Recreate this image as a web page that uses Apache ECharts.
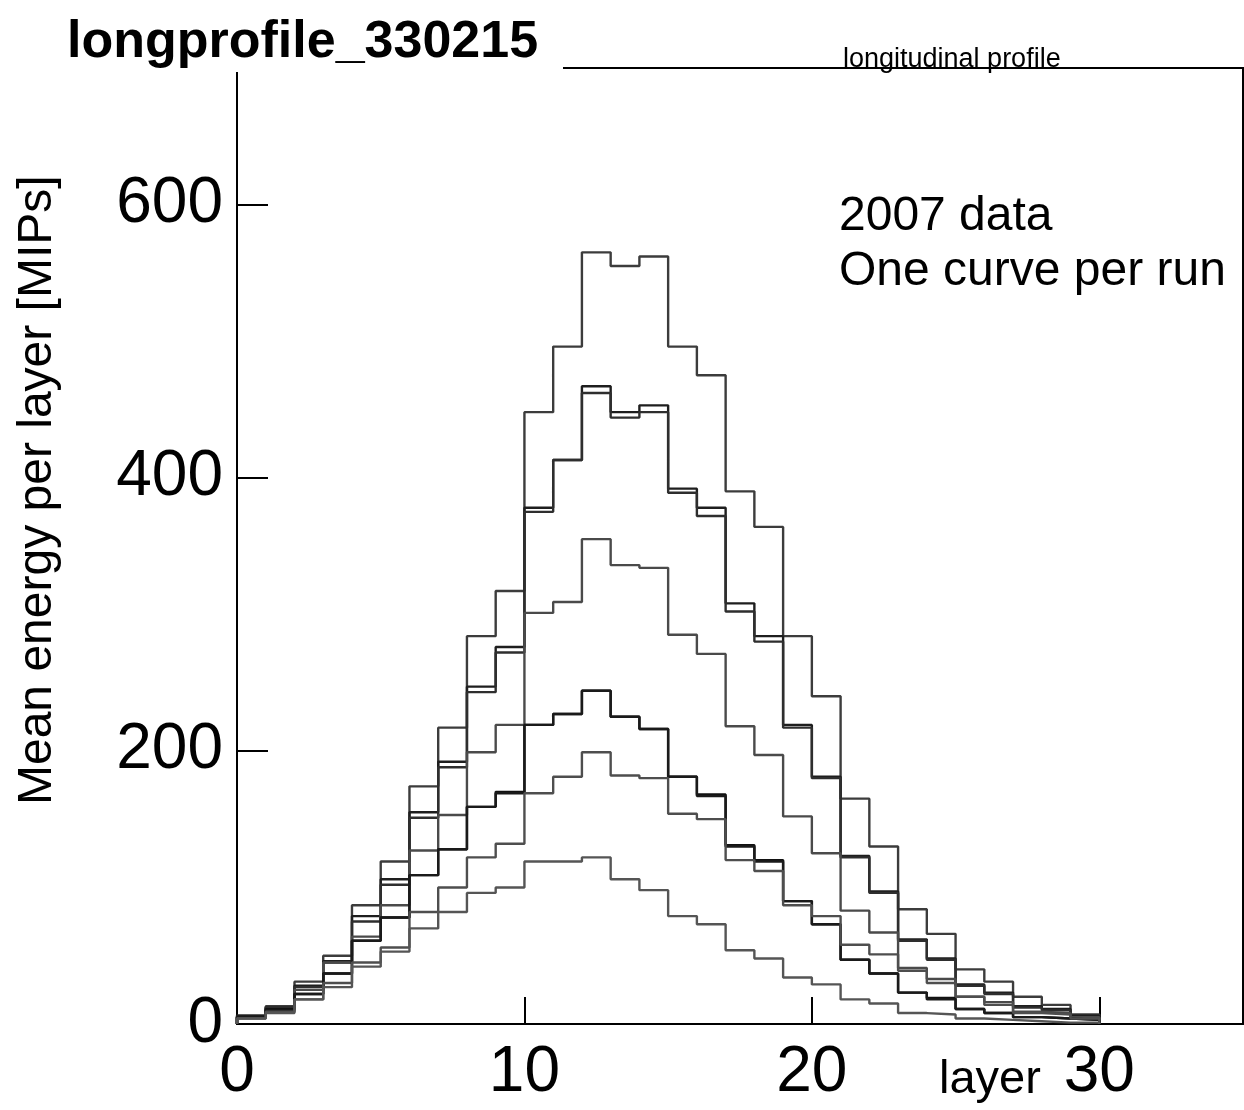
<!DOCTYPE html>
<html>
<head>
<meta charset="utf-8">
<title>longprofile_330215</title>
<script src="https://cdn.jsdelivr.net/npm/echarts@6/dist/echarts.min.js"></script>
<style>
  html, body { margin: 0; padding: 0; background: #ffffff; }
  #chart { width: 1244px; height: 1110px; }
</style>
</head>
<body>
<div id="chart"></div>
<script>
// Mean energy per layer [MIPs], one histogram per run, layers 0..29 (bin width 1)
const runA  = [6, 13, 31, 50, 87, 119, 174, 217, 284, 317, 448, 496, 565, 555, 562, 496, 475, 390, 364, 284, 240, 165, 130, 84, 66, 40, 31, 20, 14, 7];
const runB1 = [6, 12, 28, 46, 79, 106, 155, 192, 247, 276, 378, 413, 467, 448, 453, 392, 378, 308, 284, 219, 181, 123, 97, 62, 48, 29, 23, 13, 11, 6];
const runB2 = [5, 12, 27, 45, 75, 102, 151, 188, 243, 272, 375, 413, 462, 444, 448, 389, 372, 302, 280, 217, 180, 122, 96, 61, 47, 28, 22, 12, 10, 5];
const runC  = [5, 11, 25, 45, 64, 87, 127, 153, 199, 219, 301, 309, 355, 336, 334, 285, 271, 218, 197, 152, 125, 83, 67, 41, 33, 20, 16, 9, 8, 5];
const runD1 = [5, 11, 22, 37, 61, 78, 109, 128, 159, 170, 219, 227, 244, 225, 216, 181, 168, 131, 120, 90, 73, 47, 37, 23, 19, 11, 8, 5, 4, 3];
const runD2 = [5, 10, 22, 37, 61, 78, 109, 128, 159, 169, 219, 227, 244, 225, 216, 181, 167, 130, 119, 90, 73, 47, 37, 23, 18, 11, 8, 5, 4, 3];
const runE  = [4, 9, 18, 30, 45, 56, 82, 100, 122, 132, 169, 181, 199, 182, 180, 154, 150, 120, 112, 87, 79, 58, 51, 39, 30, 20, 14, 8, 7, 4];
const runF  = [4, 8, 18, 27, 42, 53, 70, 82, 96, 100, 119, 119, 122, 106, 98, 79, 73, 54, 48, 34, 29, 18, 15, 8, 7, 4, 3, 2, 1, 1];

const runs = [
  { name: 'run A',  values: runA,  color: '#3c3c3c' },
  { name: 'run B1', values: runB1, color: '#1e1e1e' },
  { name: 'run B2', values: runB2, color: '#2e2e2e' },
  { name: 'run C',  values: runC,  color: '#4a4a4a' },
  { name: 'run D1', values: runD1, color: '#111111' },
  { name: 'run D2', values: runD2, color: '#1a1a1a' },
  { name: 'run E',  values: runE,  color: '#4e4e4e' },
  { name: 'run F',  values: runF,  color: '#555555' }
];

const xTicks = [0, 10, 20, 30];
const yTicks = [0, 200, 400, 600];

const FONT = '"Liberation Sans", Arial, Helvetica, sans-serif';

// histogram outline: each bin [i, i+1) drawn flat at its value
function histPoints(values) {
  const pts = [[0, 0]];
  values.forEach((v, i) => pts.push([i, v]));
  pts.push([values.length, values[values.length - 1]]);
  pts.push([values.length, 0]);
  return pts;
}

const chart = echarts.init(document.getElementById('chart'), null, { renderer: 'canvas' });

const option = {
  backgroundColor: '#ffffff',
  animation: false,
  title: {
    text: 'longprofile_330215',
    left: 62,
    top: 12,
    z: 200,
    textStyle: { fontFamily: FONT, fontSize: 52, fontWeight: 'bold', color: '#000' }
  },
  grid: {
    left: 237, right: 1, top: 68, bottom: 86,
    show: true, borderColor: '#000', borderWidth: 2, backgroundColor: 'transparent'
  },
  xAxis: {
    type: 'value',
    min: 0, max: 35, interval: 10,
    axisLine: { show: true, onZero: false, lineStyle: { color: '#000', width: 2 } },
    axisTick: { show: true, inside: true, length: 27, lineStyle: { color: '#000', width: 2 } },
    splitLine: { show: false },
    axisLabel: {
      fontFamily: FONT, fontSize: 64, color: '#000', margin: 17,
      showMaxLabel: false,
      formatter: v => (xTicks.indexOf(v) >= 0 ? String(v) : '')
    }
  },
  yAxis: {
    type: 'value',
    min: 0, max: 700, interval: 200,
    axisLine: { show: true, onZero: false, lineStyle: { color: '#000', width: 2 } },
    axisTick: { show: true, inside: true, length: 31, lineStyle: { color: '#000', width: 2 } },
    splitLine: { show: false },
    axisLabel: {
      fontFamily: FONT, fontSize: 64, color: '#000', margin: 14,
      showMaxLabel: false,
      formatter: v => (yTicks.indexOf(v) >= 0 ? String(v) : '')
    }
  },
  graphic: [
    // title pave covering the upper-left part of the frame
    { type: 'rect', z: 100, shape: { x: 0, y: 0, width: 563, height: 72 }, style: { fill: '#ffffff' } },
    { type: 'text', z: 110, left: 843, top: 46,
      style: { text: 'longitudinal profile', font: '27px ' + FONT, fill: '#000' } },
    { type: 'text', z: 110, left: 839, top: 193,
      style: { text: '2007 data', font: '48px ' + FONT, fill: '#000' } },
    { type: 'text', z: 110, left: 839, top: 248,
      style: { text: 'One curve per run', font: '48px ' + FONT, fill: '#000' } },
    { type: 'text', z: 110, left: 939, top: 1057,
      style: { text: 'layer', font: '47px ' + FONT, fill: '#000' } },
    { type: 'text', z: 110, x: 14, y: 805, rotation: Math.PI / 2,
      style: { text: 'Mean energy per layer [MIPs]', font: '48px ' + FONT, fill: '#000',
               align: 'left', verticalAlign: 'top' } }
  ],
  series: runs.map(r => ({
    name: r.name,
    type: 'line',
    step: 'end',
    symbol: 'none',
    silent: true,
    data: histPoints(r.values),
    lineStyle: { color: r.color, width: 2.4 },
    z: 5
  }))
};

chart.setOption(option);
</script>
</body>
</html>
